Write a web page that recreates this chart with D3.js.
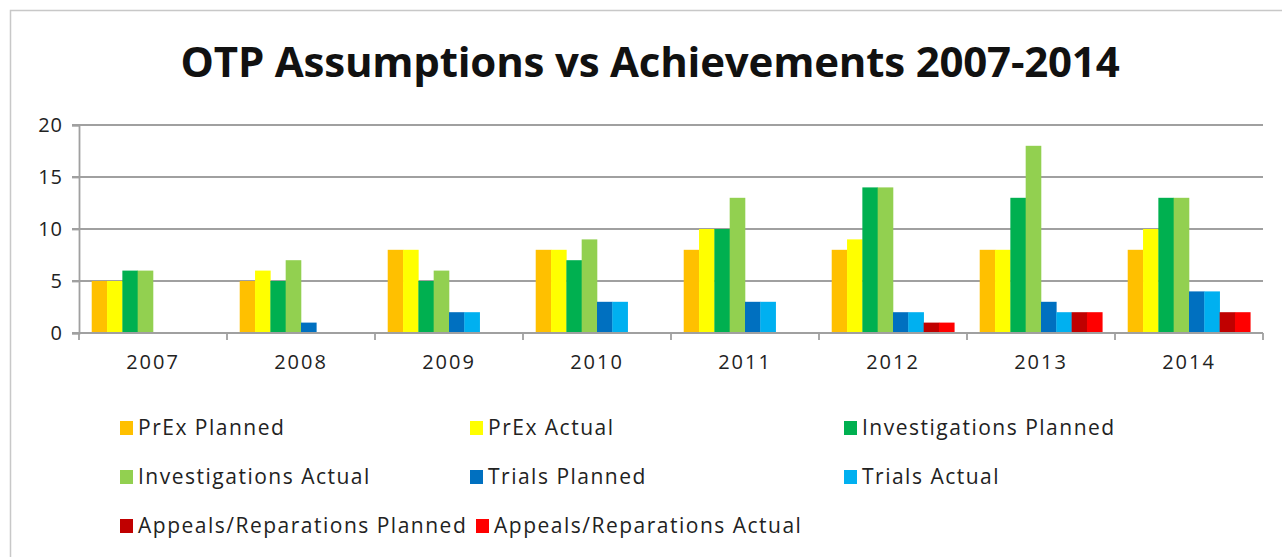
<!DOCTYPE html>
<html>
<head>
<meta charset="utf-8">
<script src="https://cdn.jsdelivr.net/npm/d3@7"></script>
<style>
  html, body { margin: 0; padding: 0; background: #fff; }
  svg { display: block; }
  text { font-family: "Open Sans", "Noto Sans", sans-serif; }
</style>
</head>
<body>
<svg id="chart" width="1282" height="557"></svg>
<script>
const title = "OTP Assumptions vs Achievements 2007-2014";
const years = ["2007", "2008", "2009", "2010", "2011", "2012", "2013", "2014"];
const seriesNames = [
  "PrEx Planned", "PrEx Actual",
  "Investigations Planned", "Investigations Actual",
  "Trials Planned", "Trials Actual",
  "Appeals/Reparations Planned", "Appeals/Reparations Actual"
];
const seriesColors = ["#FFC000", "#FFFF00", "#00B050", "#92D050", "#0070C0", "#00B0F0", "#C00000", "#FF0000"];
const prexPlanned   = [5, 5, 8, 8, 8, 8, 8, 8];
const prexActual    = [5, 6, 8, 8, 10, 9, 8, 10];
const invPlanned    = [6, 5, 5, 7, 10, 14, 13, 13];
const invActual     = [6, 7, 6, 9, 13, 14, 18, 13];
const trialsPlanned = [0, 1, 2, 3, 3, 2, 3, 4];
const trialsActual  = [0, 0, 2, 3, 3, 2, 2, 4];
const appPlanned    = [0, 0, 0, 0, 0, 1, 2, 2];
const appActual     = [0, 0, 0, 0, 0, 1, 2, 2];
const yTicks = [0, 5, 10, 15, 20];

const seriesValues = [prexPlanned, prexActual, invPlanned, invActual, trialsPlanned, trialsActual, appPlanned, appActual];

const svg = d3.select("#chart");

// outer frame
svg.append("rect").attr("x", 10.5).attr("y", 10.5).attr("width", 1290).attr("height", 560)
  .attr("fill", "none").attr("stroke", "#c8c8c8").attr("stroke-width", 1.5);

const plotL = 79, plotR = 1263, plotT = 125, plotB = 333;

const x0 = d3.scaleBand().domain(years).range([plotL, plotR]).padding(0);
const x1 = d3.scaleBand().domain(seriesNames).range([0, x0.bandwidth()]).paddingInner(0).paddingOuter(0.83);
const y = d3.scaleLinear().domain([0, 20]).range([plotB, plotT]);
const color = d3.scaleOrdinal().domain(seriesNames).range(seriesColors);

// gridlines
const grid = svg.append("g");
grid.selectAll("line").data(yTicks).join("line")
  .attr("x1", plotL - 7).attr("x2", plotR)
  .attr("y1", d => y(d)).attr("y2", d => y(d))
  .attr("stroke", "#a0a0a0").attr("stroke-width", 1.8);

// y axis
const yAxis = svg.append("g").attr("transform", `translate(${plotL},0)`)
  .call(d3.axisLeft(y).tickValues(yTicks).tickSize(7).tickPadding(9));
yAxis.select(".domain").attr("stroke", "#a0a0a0").attr("stroke-width", 1.8);
yAxis.selectAll(".tick line").attr("stroke", "#a0a0a0").attr("stroke-width", 1.8);
yAxis.selectAll(".tick text").attr("font-size", 20).attr("fill", "#222").attr("letter-spacing", 1)
  .attr("font-family", "Open Sans, sans-serif");

// bars
const groups = svg.append("g").selectAll("g").data(years).join("g")
  .attr("transform", d => `translate(${x0(d)},0)`);
groups.selectAll("rect")
  .data((yr, i) => seriesNames.map((s, k) => ({ s, v: seriesValues[k][i] })))
  .join("rect")
  .attr("x", d => x1(d.s))
  .attr("width", x1.bandwidth() + 0.3)
  .attr("y", d => y(d.v))
  .attr("height", d => y(0) - y(d.v))
  .attr("fill", d => color(d.s));

// x axis
const xAxis = svg.append("g").attr("transform", `translate(0,${plotB})`)
  .call(d3.axisBottom(x0).tickSize(0).tickPadding(22));
xAxis.select(".domain").remove();
xAxis.selectAll(".tick text").attr("font-size", 20).attr("fill", "#222").attr("letter-spacing", 2)
  .attr("font-family", "Open Sans, sans-serif");
svg.append("line").attr("x1", plotL).attr("x2", plotR).attr("y1", plotB).attr("y2", plotB)
  .attr("stroke", "#a0a0a0").attr("stroke-width", 1.8);
svg.append("g").selectAll("line").data(years.concat(["end"])).join("line")
  .attr("x1", d => d === "end" ? plotR : x0(d)).attr("x2", d => d === "end" ? plotR : x0(d))
  .attr("y1", plotB).attr("y2", plotB + 7)
  .attr("stroke", "#a0a0a0").attr("stroke-width", 1.8);

// title
svg.append("text").attr("x", 650).attr("y", 77).attr("text-anchor", "middle")
  .attr("font-size", 42).attr("font-weight", "bold").attr("fill", "#111")
  .attr("letter-spacing", -0.2)
  .text(title);

// legend
const colX = [120, 470, 844];
const rowY = [428, 477, 526];
const leg = svg.append("g");
seriesNames.forEach((s, i) => {
  const row = Math.floor(i / 3), col = i % 3;
  let sx = colX[col];
  if (row === 2 && col === 1) sx = 476;
  const g = leg.append("g").attr("transform", `translate(${sx},${rowY[row]})`);
  g.append("rect").attr("x", 0).attr("y", -7).attr("width", 13).attr("height", 14).attr("fill", color(s));
  g.append("text").attr("x", 18).attr("y", 0).attr("dy", "0.35em")
    .attr("font-size", 21).attr("fill", "#222").attr("letter-spacing", 1.5).text(s);
});
</script>
</body>
</html>
